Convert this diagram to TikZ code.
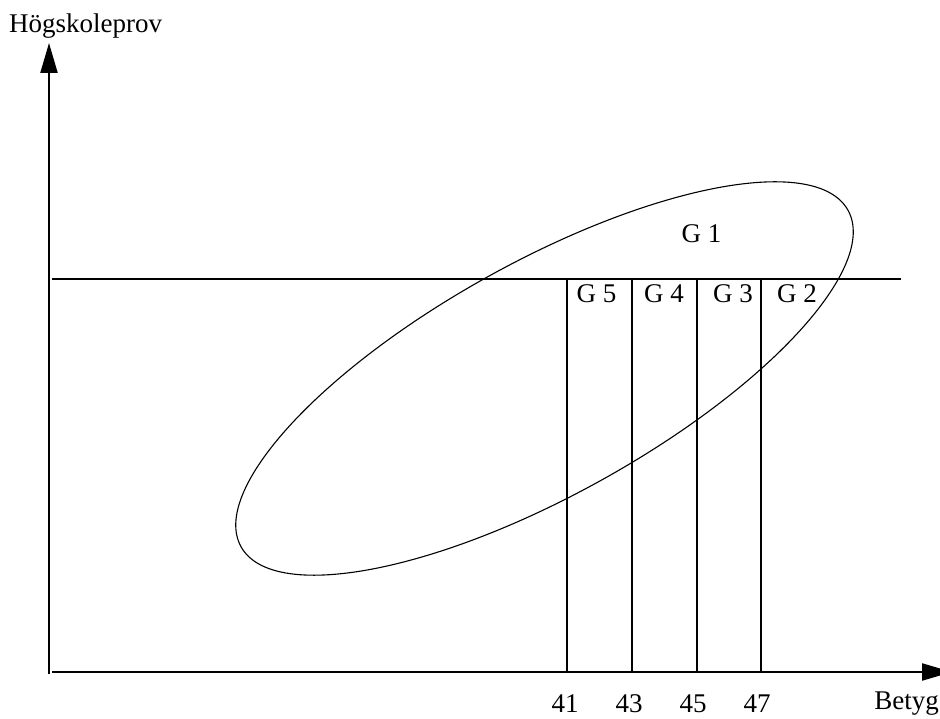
\documentclass[tikz,border=0pt]{standalone}
\usepackage{fontspec}
\setmainfont{Liberation Serif}
\usetikzlibrary{arrows.meta}
\tikzset{
  axis/.style={line width=2.2pt,-{Triangle[length=30pt,width=17pt]}},
  grid/.style={line width=2pt},
  cloud/.style={line width=1.1pt},
  lbl/.style={inner sep=0pt,font=\fontsize{27}{31}\selectfont}
}
\begin{document}
\begin{tikzpicture}[x=1pt,y=1pt]
\useasboundingbox (0,0) rectangle (940,718);
\clip (0,0) rectangle (940,718);
% axes
\coordinate (yb) at (49,44);
\coordinate (yt) at (49,675);
\coordinate (xl) at (52,46);
\coordinate (xr) at (952,46);
\draw[axis] (yb) -- (yt);
\draw[axis] (xl) -- (xr);
% horizontal threshold line
\coordinate (hl) at (52,439);
\coordinate (hr) at (901,439);
\draw[grid] (hl) -- (hr);
% vertical lines
\foreach \n/\x in {41/567,43/632,45/697,47/761}{
  \coordinate (t\n) at (\x,439);
  \coordinate (b\n) at (\x,46);
  \draw[grid] (t\n) -- (b\n);
}
% ellipse
\coordinate (ec) at (544.5,339.5);
\draw[cloud,rotate around={29:(ec)}] (ec) ellipse [x radius=347, y radius=116.5];
% labels
\node[lbl,anchor=base west] (ylab) at (9,685) {Högskoleprov};
\node[lbl,anchor=base east] (xlab) at (939,9) {Betyg};
\node[lbl,anchor=base] (n41) at (565,6) {41};
\node[lbl,anchor=base] (n43) at (629,6) {43};
\node[lbl,anchor=base] (n45) at (693,6) {45};
\node[lbl,anchor=base] (n47) at (757,6) {47};
\node[lbl,anchor=base] (g1) at (701.5,475) {G 1};
\node[lbl,anchor=base] (g5) at (596.5,415) {G 5};
\node[lbl,anchor=base] (g4) at (664,415) {G 4};
\node[lbl,anchor=base] (g3) at (733,415) {G 3};
\node[lbl,anchor=base] (g2) at (797,415) {G 2};
\end{tikzpicture}
\end{document}
